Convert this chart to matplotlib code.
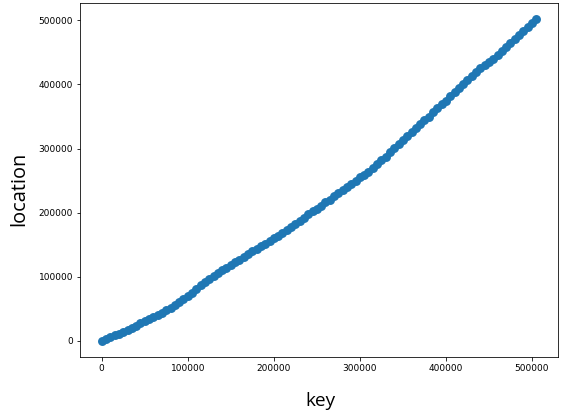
import matplotlib
matplotlib.use('Agg')
import matplotlib.pyplot as plt

# key -> location
keys = [0, 5000, 10000, 15000, 20000, 25000, 30000, 35000, 40000, 45000,
        50000, 55000, 60000, 65000, 70000, 75000, 80000, 85000, 90000, 95000,
        100000, 105000, 110000, 115000, 120000, 125000, 130000, 135000, 140000, 145000,
        150000, 155000, 160000, 165000, 170000, 175000, 180000, 185000, 190000, 195000,
        200000, 205000, 210000, 215000, 220000, 225000, 230000, 235000, 240000, 245000,
        250000, 255000, 260000, 265000, 270000, 275000, 280000, 285000, 290000, 295000,
        300000, 305000, 310000, 315000, 320000, 325000, 330000, 335000, 340000, 345000,
        350000, 355000, 360000, 365000, 370000, 375000, 380000, 385000, 390000, 395000,
        400000, 405000, 410000, 415000, 420000, 425000, 430000, 435000, 440000, 445000,
        450000, 455000, 460000, 465000, 470000, 475000, 480000, 485000, 490000, 495000,
        500000, 505000]
locations = [0, 3000, 5500, 8500, 11000, 14000, 17500, 19500, 24000, 27500,
             31000, 34000, 37500, 40500, 44000, 48000, 52000, 56500, 61000, 65500,
             70000, 75500, 81000, 87000, 92500, 97000, 101000, 105500, 110000, 114000,
             118000, 122500, 127000, 131000, 135000, 139500, 143500, 147500, 151500, 155500,
             160000, 164000, 168500, 172500, 177000, 182000, 187500, 192500, 197500, 202500,
             206500, 211000, 216000, 220500, 225500, 230500, 235500, 240000, 245000, 250000,
             255000, 259500, 264000, 269500, 275500, 281500, 287500, 294000, 300500, 306500,
             313000, 319000, 325500, 332000, 338000, 344000, 350000, 356500, 363000, 369000,
             375000, 381500, 388000, 394500, 401000, 407000, 413000, 419000, 425000, 430000,
             435500, 440500, 446000, 452000, 458500, 464500, 470500, 477000, 483500, 490000,
             496000, 502000]

fig = plt.figure(figsize=(562 / 72, 418 / 72), dpi=72, facecolor='w')
ax = fig.add_axes([0.1423, 0.1459, 0.8506, 0.8469])

ax.scatter(keys, locations, s=80, color='#1f77b4', linewidths=0)

ax.set_xlabel('key', fontsize=19, family='Open Sans')
ax.set_ylabel('location', fontsize=20, family='Open Sans')
ax.tick_params(labelsize=9)
# label anchors measured in pixels on the reference
ax.xaxis.set_label_coords((320 - 80) / 478, (357 - 392) / 354)
ax.yaxis.set_label_coords((29 - 80) / 478, (357 - 189) / 354)

fig.savefig('out.png', dpi=72)
